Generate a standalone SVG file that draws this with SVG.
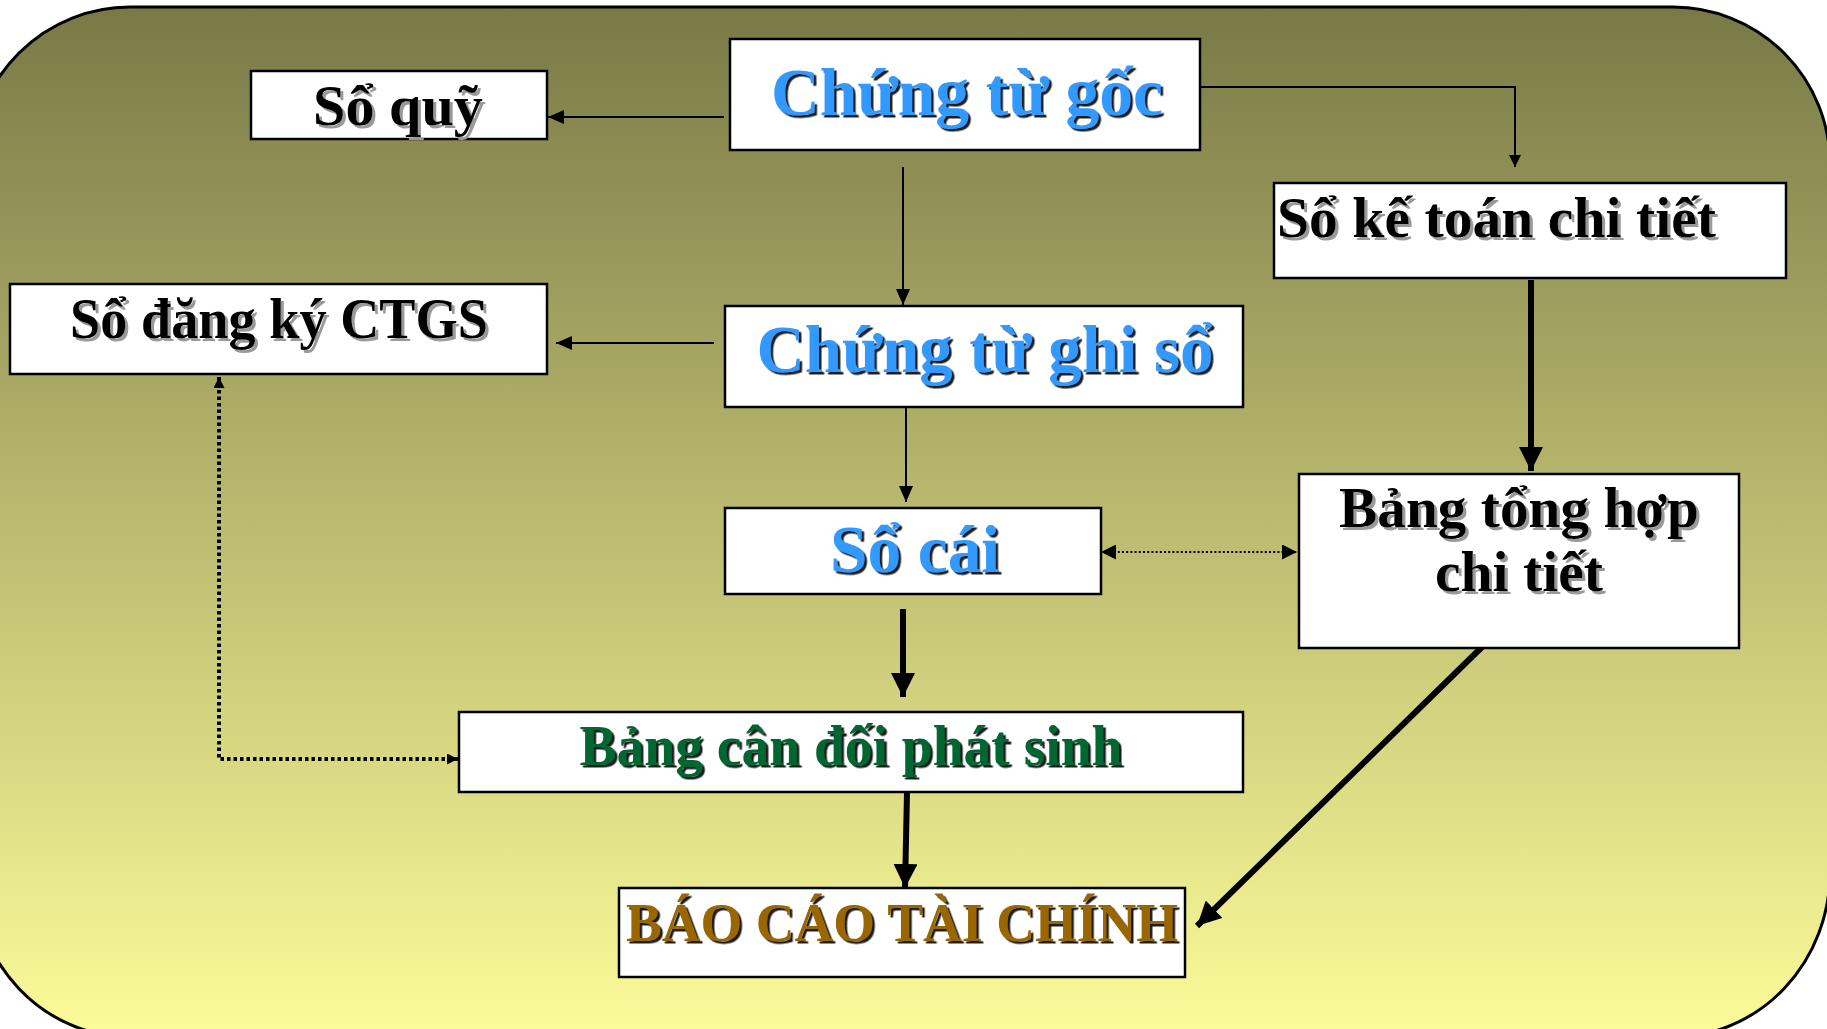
<svg xmlns="http://www.w3.org/2000/svg" width="1827" height="1029" viewBox="0 0 1827 1029">
  <defs>
    <linearGradient id="bg" x1="0" y1="7" x2="0" y2="1029" gradientUnits="userSpaceOnUse">
      <stop offset="0" stop-color="#797947"/>
      <stop offset="1" stop-color="#fbfb99"/>
    </linearGradient>
    <filter id="shGray" x="-5%" y="-20%" width="115%" height="150%">
      <feDropShadow dx="3" dy="3" stdDeviation="0.4" flood-color="#9a9a9a" flood-opacity="1"/>
    </filter>
    <filter id="shDark" x="-5%" y="-20%" width="115%" height="150%">
      <feDropShadow dx="2.5" dy="2.5" stdDeviation="0.4" flood-color="#1a1a1a" flood-opacity="1"/>
    </filter>
    <marker id="headThin" viewBox="0 0 16 14" refX="16" refY="7" markerWidth="16" markerHeight="14" markerUnits="userSpaceOnUse" orient="auto">
      <path d="M0,0 L16,7 L0,14 Z" fill="#000"/>
    </marker>
    <marker id="headSmall" viewBox="0 0 12 12" refX="12" refY="6" markerWidth="12" markerHeight="12" markerUnits="userSpaceOnUse" orient="auto">
      <path d="M0,0 L12,6 L0,12 Z" fill="#000"/>
    </marker>
    <marker id="headThick" viewBox="0 0 24 24" refX="24" refY="12" markerWidth="24" markerHeight="24" markerUnits="userSpaceOnUse" orient="auto">
      <path d="M0,0 L24,12 L0,24 Z" fill="#000"/>
    </marker>
    <marker id="headDot" viewBox="0 0 15 15" refX="15" refY="7.5" markerWidth="15" markerHeight="15" markerUnits="userSpaceOnUse" orient="auto-start-reverse">
      <path d="M0,0 L15,7.5 L0,15 Z" fill="#000"/>
    </marker>
    <marker id="headDot2" viewBox="0 0 11 11" refX="11" refY="5.5" markerWidth="11" markerHeight="11" markerUnits="userSpaceOnUse" orient="auto-start-reverse">
      <path d="M0,0 L11,5.5 L0,11 Z" fill="#000"/>
    </marker>
  </defs>
  <style>
    .box { fill: #ffffff; stroke: #000000; stroke-width: 2.5; }
    .lbl { font-family: "Liberation Serif", "Times New Roman", serif; font-weight: bold; }
    .black { fill: #000000; filter: url(#shGray); }
    .blue { fill: #3399ff; filter: url(#shDark); }
    .green { fill: #006633; filter: url(#shDark); }
    .brown { fill: #996600; filter: url(#shDark); }
    .thin { fill: none; stroke: #000; stroke-width: 2; marker-end: url(#headThin); }
    .thinS { fill: none; stroke: #000; stroke-width: 2; marker-end: url(#headSmall); }
    .thick { fill: none; stroke: #000; stroke-width: 6; marker-end: url(#headThick); }
    .dot { fill: none; stroke: #000; stroke-width: 2; stroke-dasharray: 2 2.2; }
    .dot2 { fill: none; stroke: #000; stroke-width: 4; stroke-dasharray: 3.5 3; }
  </style>

  <!-- backdrop panel: rounded top corners, bottom edge runs just past the page -->
  <path d="M-27,164 A157,157 0 0 1 130,7 L1673,7 A157,157 0 0 1 1830,164 L1830,872 A157,165 0 0 1 1673,1037 L130,1037 A157,165 0 0 1 -27,872 Z" fill="url(#bg)" stroke="#000" stroke-width="3"/>

  <!-- connectors -->
  <g id="connectors">
    <path class="thin" d="M724,117 L548,117"/>
    <path class="thinS" d="M1197,87 L1515,87 L1515,167"/>
    <path class="thin" d="M903,167 L903,305"/>
    <path class="thin" d="M714,343 L556,343"/>
    <path class="thin" d="M906,407 L906,502"/>
    <path class="thick" d="M903,609 L903,697"/>
    <path class="thick" d="M907,792 L905,888"/>
    <path class="thick" d="M1531,280 L1531,471"/>
    <path class="thick" d="M1482,647 L1197,926"/>
    <path class="dot" d="M1101,552 L1297,552" marker-start="url(#headDot)" marker-end="url(#headDot)"/>
    <path class="dot2" d="M219,377 L219,759 L458,759" marker-start="url(#headDot2)" marker-end="url(#headDot2)"/>
  </g>

  <!-- nodes -->
  <g id="so-quy">
    <rect class="box" x="251" y="71" width="296" height="68"/>
    <text class="lbl black" x="398" y="125" font-size="56" text-anchor="middle" textLength="170" lengthAdjust="spacingAndGlyphs">Sổ quỹ</text>
  </g>
  <g id="chung-tu-goc">
    <rect class="box" x="730" y="39" width="470" height="111"/>
    <text class="lbl blue" x="967" y="115" font-size="68" text-anchor="middle" textLength="392" lengthAdjust="spacingAndGlyphs">Chứng từ gốc</text>
  </g>
  <g id="so-ke-toan-chi-tiet">
    <rect class="box" x="1274" y="183" width="512" height="95"/>
    <text class="lbl black" x="1277" y="237" font-size="56" textLength="439" lengthAdjust="spacingAndGlyphs">Sổ kế toán chi tiết</text>
  </g>
  <g id="so-dang-ky-ctgs">
    <rect class="box" x="10" y="284" width="537" height="90"/>
    <text class="lbl black" x="279" y="338" font-size="56" text-anchor="middle" textLength="418" lengthAdjust="spacingAndGlyphs">Sổ đăng ký CTGS</text>
  </g>
  <g id="chung-tu-ghi-so">
    <rect class="box" x="725" y="306" width="518" height="101"/>
    <text class="lbl blue" x="985" y="372" font-size="68" text-anchor="middle" textLength="457" lengthAdjust="spacingAndGlyphs">Chứng từ ghi sổ</text>
  </g>
  <g id="so-cai">
    <rect class="box" x="725" y="508" width="376" height="86"/>
    <text class="lbl blue" x="915" y="572" font-size="68" text-anchor="middle" textLength="170" lengthAdjust="spacingAndGlyphs">Sổ cái</text>
  </g>
  <g id="bang-tong-hop-chi-tiet">
    <rect class="box" x="1299" y="474" width="440" height="174"/>
    <text class="lbl black" x="1519" y="527" font-size="57" text-anchor="middle" textLength="360" lengthAdjust="spacingAndGlyphs">Bảng tổng hợp</text>
    <text class="lbl black" x="1519" y="591" font-size="57" text-anchor="middle" textLength="168" lengthAdjust="spacingAndGlyphs">chi tiết</text>
  </g>
  <g id="bang-can-doi-phat-sinh">
    <rect class="box" x="459" y="712" width="784" height="80"/>
    <text class="lbl green" x="851" y="765" font-size="56" text-anchor="middle" textLength="543" lengthAdjust="spacingAndGlyphs">Bảng cân đối phát sinh</text>
  </g>
  <g id="bao-cao-tai-chinh">
    <rect class="box" x="619" y="888" width="566" height="89"/>
    <text class="lbl brown" x="902" y="941" font-size="54" text-anchor="middle" textLength="552" lengthAdjust="spacingAndGlyphs">BÁO CÁO TÀI CHÍNH</text>
  </g>
</svg>
